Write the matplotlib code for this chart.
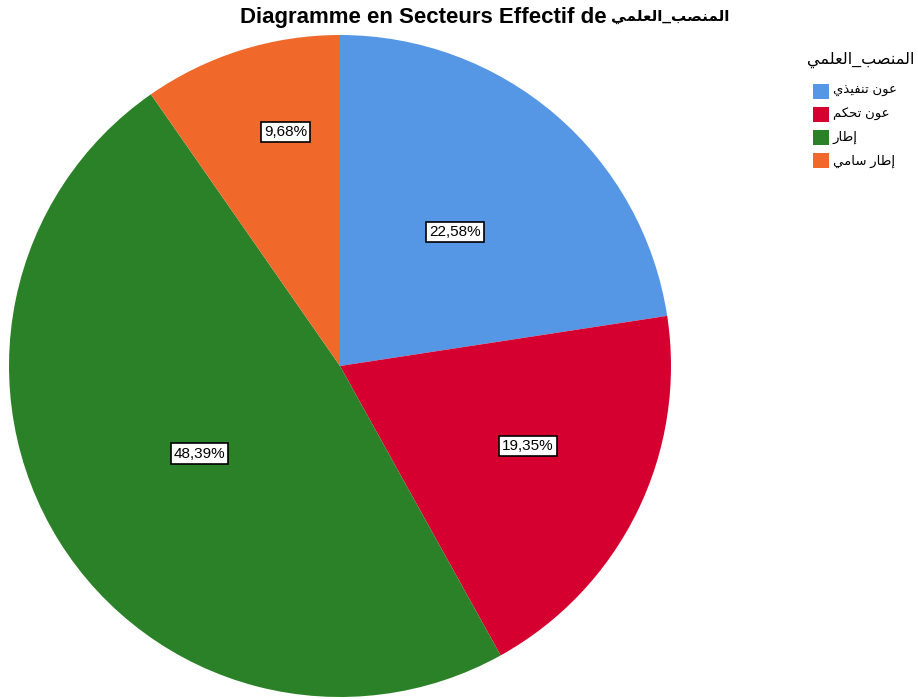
import numpy as np
import matplotlib.pyplot as plt
from matplotlib.patches import Rectangle

# =========================
# DONNÉES
# =========================

categories = ["عون تنفيذي", "عون تحكم", "إطار", "إطار سامي"]
effectifs = [7, 6, 15, 3]
couleurs = ["#5697E5", "#D5002F", "#2A8127", "#F0692B"]
variable = "المنصب_العلمي"
titre = "Diagramme en Secteurs Effectif de"

# placement des étiquettes : fraction du rayon, décalage angulaire (degrés)
label_dist = [0.535, 0.617, 0.50, 0.726]
label_shift = [0.0, 3.0, 0.0, -4.4]

# =========================
# MISE EN FORME ARABE (formes de présentation + ordre visuel)
# =========================

FORMS = {
    "ا": ("\uFE8D", "\uFE8E", None, None),
    "إ": ("\uFE87", "\uFE88", None, None),
    "ل": ("\uFEDD", "\uFEDE", "\uFEDF", "\uFEE0"),
    "م": ("\uFEE1", "\uFEE2", "\uFEE3", "\uFEE4"),
    "ن": ("\uFEE5", "\uFEE6", "\uFEE7", "\uFEE8"),
    "ص": ("\uFEB9", "\uFEBA", "\uFEBB", "\uFEBC"),
    "ب": ("\uFE8F", "\uFE90", "\uFE91", "\uFE92"),
    "ع": ("\uFEC9", "\uFECA", "\uFECB", "\uFECC"),
    "ي": ("\uFEF1", "\uFEF2", "\uFEF3", "\uFEF4"),
    "و": ("\uFEED", "\uFEEE", None, None),
    "ت": ("\uFE95", "\uFE96", "\uFE97", "\uFE98"),
    "ف": ("\uFED1", "\uFED2", "\uFED3", "\uFED4"),
    "ذ": ("\uFEAB", "\uFEAC", None, None),
    "ح": ("\uFEA1", "\uFEA2", "\uFEA3", "\uFEA4"),
    "ك": ("\uFED9", "\uFEDA", "\uFEDB", "\uFEDC"),
    "ط": ("\uFEC1", "\uFEC2", "\uFEC3", "\uFEC4"),
    "ر": ("\uFEAD", "\uFEAE", None, None),
    "س": ("\uFEB1", "\uFEB2", "\uFEB3", "\uFEB4"),
}


def shape(txt):
    out = []
    for i, c in enumerate(txt):
        if c not in FORMS:
            out.append(c)
            continue
        prev = txt[i - 1] if i > 0 else None
        nxt = txt[i + 1] if i + 1 < len(txt) else None
        join_prev = prev in FORMS and FORMS[prev][2] is not None
        join_next = nxt in FORMS and FORMS[c][2] is not None
        iso, fin, ini, med = FORMS[c]
        if join_prev and join_next:
            out.append(med)
        elif join_prev:
            out.append(fin)
        elif join_next:
            out.append(ini)
        else:
            out.append(iso)
    return "".join(reversed(out))


plt.rcParams["font.family"] = ["Liberation Sans", "DejaVu Sans"]

# =========================
# FIGURE
# =========================

W, H = 918, 699
fig = plt.figure(figsize=(W / 100, H / 100), dpi=100)
cx, cy, R = 340, 366, 331
ax = fig.add_axes([(cx - R) / W, (H - cy - R) / H, 2 * R / W, 2 * R / H])

total = sum(effectifs)
wedges, _ = ax.pie(
    effectifs, colors=couleurs, startangle=90, counterclock=False,
    radius=1, wedgeprops=dict(linewidth=0),
)
for w in wedges:
    w.set_clip_on(False)
ax.set_xlim(-1, 1)
ax.set_ylim(-1, 1)
ax.set_aspect("equal")
ax.axis("off")

for w, n, d, s in zip(wedges, effectifs, label_dist, label_shift):
    mid = np.deg2rad((w.theta1 + w.theta2) / 2 + s)
    pct = f"{100 * n / total:.2f}%".replace(".", ",")
    ax.text(d * np.cos(mid), d * np.sin(mid), pct, ha="center", va="center",
            fontsize=11, color="black",
            bbox=dict(boxstyle="square,pad=0.2", fc="white", ec="black", lw=1.2))

# titre : partie latine + nom de variable
fig.text(607 / W, 1 - 17 / H, titre, ha="right", va="center",
         fontsize=16, fontweight="bold")
fig.text(611 / W, 1 - 17 / H, shape(variable), ha="left", va="center",
         fontsize=11, fontweight="bold")

# légende
fig.text(861 / W, 1 - 60 / H, shape(variable), ha="center", va="center",
         fontsize=11.5)
y0, pas = 91, 23.3
for i, (lab, col) in enumerate(zip(categories, couleurs)):
    yc = y0 + i * pas
    fig.add_artist(Rectangle((813 / W, 1 - (yc + 7.5) / H), 16 / W, 15 / H,
                             transform=fig.transFigure, fc=col, ec="none"))
    fig.text(833 / W, 1 - yc / H, shape(lab), ha="left", va="center",
             fontsize=9.5)

fig.savefig("out.png", dpi=100)
